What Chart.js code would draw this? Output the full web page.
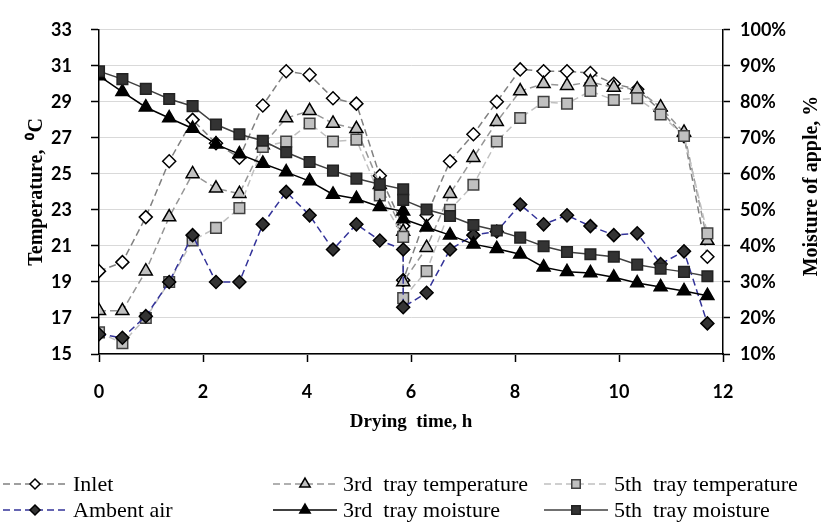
<!DOCTYPE html>
<html>
<head>
<meta charset="utf-8">
<script src="https://cdn.jsdelivr.net/npm/chart.js@4.4.0/dist/chart.umd.min.js"></script>
<style>
  html, body { margin: 0; padding: 0; background: #fff; }
  #wrap { width: 821px; height: 528px; }
</style>
</head>
<body>
<div id="wrap"><canvas id="myChart" width="821" height="528"></canvas></div>
<script>
// drying time (h); the day-2 run starts again at 5.85 h
const hours = [0, 0.45, 0.9, 1.35, 1.8, 2.25, 2.7, 3.15, 3.6, 4.05, 4.5, 4.95, 5.4, 5.85,
               5.85, 6.3, 6.75, 7.2, 7.65, 8.1, 8.55, 9.0, 9.45, 9.9, 10.35, 10.8, 11.25, 11.7];

// temperatures, deg C (left axis)
const inletTemp = [19.6, 20.1, 22.6, 25.7, 28.0, 26.7, 25.9, 28.8, 30.7, 30.5, 29.2, 28.9, 24.9, 22.1,
                   19.1, 22.7, 25.7, 27.2, 29.0, 30.8, 30.7, 30.7, 30.6, 30.0, 29.7, 28.5, 27.1, 20.4];
const tray3Temp = [17.4, 17.4, 19.6, 22.6, 25.0, 24.2, 23.9, 26.6, 28.1, 28.5, 27.8, 27.5, 24.4, 21.8,
                   19.0, 20.9, 23.9, 25.9, 27.9, 29.6, 30.0, 29.9, 30.1, 29.8, 29.7, 28.7, 27.3, 21.3];
const tray5Temp = [16.2, 15.6, 17.0, 19.0, 21.3, 22.0, 23.1, 26.5, 26.8, 27.8, 26.8, 26.9, 23.8, 21.5,
                   18.1, 19.6, 23.0, 24.4, 26.8, 28.1, 29.0, 28.9, 29.6, 29.1, 29.2, 28.3, 27.1, 21.7];
const ambientTemp = [16.1, 15.9, 17.1, 19.0, 21.6, 19.0, 19.0, 22.2, 24.0, 22.7, 20.8, 22.2, 21.3, 20.8,
                     17.6, 18.4, 20.8, 21.6, 21.8, 23.3, 22.2, 22.7, 22.1, 21.6, 21.7, 20.0, 20.7, 16.7];

// moisture of apple, % (right axis)
const tray3Moist = [87.2, 82.8, 78.5, 75.5, 72.6, 68.2, 65.5, 62.9, 60.5, 58.0, 54.3, 53.1, 50.9, 49.6,
                    47.5, 45.2, 43.0, 40.5, 39.2, 37.7, 34.1, 32.8, 32.5, 31.3, 29.7, 28.6, 27.5, 26.2];
const tray5Moist = [88.5, 86.3, 83.6, 80.8, 78.8, 73.7, 71.0, 69.2, 66.0, 63.3, 60.9, 58.7, 57.1, 55.7,
                    52.8, 50.1, 48.3, 45.8, 44.3, 42.3, 39.9, 38.3, 37.7, 37.0, 34.8, 33.7, 32.8, 31.6];

const seriesNames = ["Inlet", "3rd  tray temperature", "5th  tray temperature",
                     "Ambent air", "3rd  tray moisture", "5th  tray moisture"];

function pts(vals) {
    return vals.map(function (v, i) { return { x: hours[i], y: v }; });
}

const serif = "'Liberation Serif', 'Times New Roman', serif";
const sans = "Lato, 'Open Sans', sans-serif";

const datasets = [
    { label: seriesNames[0], data: pts(inletTemp), yAxisID: 'y', order: 6,
      borderColor: '#808080', borderDash: [7, 4], borderWidth: 1.5,
      pointStyle: 'rectRot', pointRadius: 6.5, pointBackgroundColor: '#ffffff', pointBorderColor: '#000000' },
    { label: seriesNames[1], data: pts(tray3Temp), yAxisID: 'y', order: 5,
      borderColor: '#969696', borderDash: [7, 4], borderWidth: 1.5,
      pointStyle: 'triangle', pointRadius: 7.5, pointBackgroundColor: '#c0c0c0', pointBorderColor: '#000000' },
    { label: seriesNames[2], data: pts(tray5Temp), yAxisID: 'y', order: 4,
      borderColor: '#c0c0c0', borderDash: [7, 4], borderWidth: 1.5,
      pointStyle: 'rect', pointRadius: 7.5, pointBackgroundColor: '#c0c0c0', pointBorderColor: '#404040' },
    { label: seriesNames[3], data: pts(ambientTemp), yAxisID: 'y', order: 3,
      borderColor: '#333399', borderDash: [7, 4], borderWidth: 1.5,
      pointStyle: 'rectRot', pointRadius: 6.5, pointBackgroundColor: '#333333', pointBorderColor: '#000000' },
    { label: seriesNames[4], data: pts(tray3Moist), yAxisID: 'y2', order: 2,
      borderColor: '#000000', borderWidth: 1.5,
      pointStyle: 'triangle', pointRadius: 7.5, pointBackgroundColor: '#000000', pointBorderColor: '#000000' },
    { label: seriesNames[5], data: pts(tray5Moist), yAxisID: 'y2', order: 1,
      borderColor: '#404040', borderWidth: 1.5,
      pointStyle: 'rect', pointRadius: 7.5, pointBackgroundColor: '#333333', pointBorderColor: '#222222' }
];
datasets.forEach(function (d) {
    d.showLine = true;
    d.fill = false;
    d.tension = 0;
    d.pointBorderWidth = 1.5;
});

function marker(ctx, style, r, x, y, fill, stroke) {
    ctx.save();
    ctx.fillStyle = fill;
    ctx.strokeStyle = stroke;
    ctx.lineWidth = 1.5;
    ctx.setLineDash([]);
    ctx.beginPath();
    if (style === 'rectRot') {
        ctx.moveTo(x, y - r); ctx.lineTo(x + r, y); ctx.lineTo(x, y + r); ctx.lineTo(x - r, y);
    } else if (style === 'triangle') {
        ctx.moveTo(x, y - r); ctx.lineTo(x + r * 0.866, y + r * 0.5); ctx.lineTo(x - r * 0.866, y + r * 0.5);
    } else {
        const s = r * Math.SQRT1_2;
        ctx.rect(x - s, y - s, 2 * s, 2 * s);
    }
    ctx.closePath();
    ctx.fill();
    ctx.stroke();
    ctx.restore();
}

// legend under the chart, 3 columns x 2 rows, plus the right axis title
const extras = {
    id: 'extras',
    afterDraw: function (chart) {
        const ctx = chart.ctx;
        const colX = [3, 273, 544];
        const rowY = [484, 510];
        ctx.save();
        ctx.font = "22px " + serif;
        ctx.textBaseline = 'middle';
        ctx.fillStyle = '#000';
        chart.data.datasets.forEach(function (d, i) {
            const x = colX[i % 3];
            const y = rowY[Math.floor(i / 3)];
            ctx.save();
            ctx.strokeStyle = d.borderColor;
            ctx.lineWidth = 1.5;
            ctx.setLineDash(d.borderDash || []);
            ctx.beginPath();
            ctx.moveTo(x, y);
            ctx.lineTo(x + 64, y);
            ctx.stroke();
            ctx.restore();
            marker(ctx, d.pointStyle, d.pointRadius - 1.5, x + 32, y, d.pointBackgroundColor, d.pointBorderColor);
            ctx.fillText(d.label, x + 70, y + 1);
        });
        ctx.font = "bold 20px " + serif;
        ctx.textAlign = 'center';
        ctx.translate(812, 186);
        ctx.rotate(-Math.PI / 2);
        ctx.fillText("Moisture of apple, %", 0, 0);
        ctx.restore();
    }
};

const config = {
    type: 'scatter',
    data: { datasets: datasets },
    options: {
        responsive: false,
        animation: false,
        layout: { padding: { top: 15, left: 0, right: 0, bottom: 91 } },
        scales: {
            x: {
                type: 'linear',
                min: 0,
                max: 12,
                afterFit: function (s) { s.height = 83; },
                border: { color: '#000', width: 1.5 },
                grid: { drawOnChartArea: false, color: '#000', tickLength: 8, tickWidth: 1.5 },
                ticks: { stepSize: 2, color: '#000', padding: 19, font: { family: sans, size: 18, weight: 'bold' } },
                title: {
                    display: true,
                    text: "Drying  time, h",
                    color: '#000',
                    font: { family: serif, size: 19, weight: 'bold' },
                    padding: { top: 0, bottom: 4 }
                }
            },
            y: {
                position: 'left',
                min: 15,
                max: 33,
                afterFit: function (s) { s.width = 99; },
                border: { color: '#000', width: 1.5 },
                grid: { color: '#d9d9d9', lineWidth: 1, tickColor: '#000', tickLength: 8, tickWidth: 1.5 },
                ticks: { stepSize: 2, color: '#000', padding: 19, font: { family: sans, size: 18, weight: 'bold' } },
                title: {
                    display: true,
                    text: "Temperature,  \u2070C",
                    color: '#000',
                    font: { family: serif, size: 20, weight: 'bold' },
                    padding: { top: 25, bottom: 0 }
                }
            },
            y2: {
                position: 'right',
                min: 10,
                max: 100,
                afterFit: function (s) { s.width = 98; },
                border: { color: '#000', width: 1.5 },
                grid: { drawOnChartArea: false, color: '#000', tickLength: 7, tickWidth: 1.5 },
                ticks: {
                    stepSize: 10,
                    color: '#000',
                    padding: 10,
                    font: { family: sans, size: 18, weight: 'bold' },
                    callback: function (v) { return v + '%'; }
                }
            }
        },
        plugins: {
            legend: { display: false },
            tooltip: { enabled: false }
        }
    },
    plugins: [extras]
};

var myChart = new Chart(document.getElementById('myChart'), config);
</script>
</body>
</html>
